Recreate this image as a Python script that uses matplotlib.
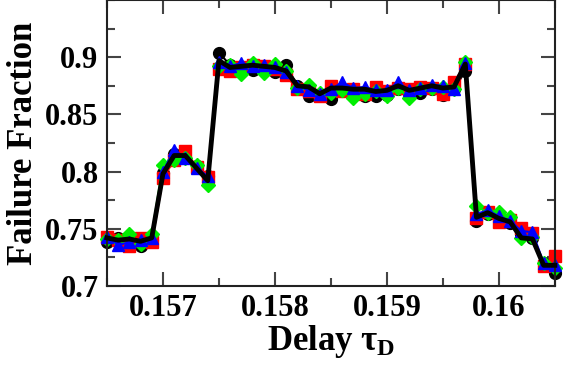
import numpy as np
import matplotlib.pyplot as plt

plt.rcParams['font.family'] = ['Liberation Serif', 'DejaVu Serif']
plt.rcParams['font.weight'] = 'bold'
plt.rcParams['mathtext.fontset'] = 'custom'
plt.rcParams['mathtext.rm'] = 'Liberation Serif:bold'
plt.rcParams['mathtext.it'] = 'Liberation Serif:bold'
plt.rcParams['mathtext.bf'] = 'Liberation Serif:bold'

delay = np.round(0.1565 + 0.0001 * np.arange(41), 4)

black = [0.738, 0.742, 0.737, 0.735, 0.740, 0.799, 0.815, 0.813, 0.805, 0.796,
         0.904, 0.893, 0.891, 0.889, 0.890, 0.887, 0.893, 0.875, 0.866, 0.867,
         0.863, 0.870, 0.867, 0.866, 0.866, 0.867, 0.872, 0.870, 0.869, 0.872,
         0.867, 0.872, 0.888, 0.757, 0.763, 0.758, 0.755, 0.745, 0.742, 0.720,
         0.711]
red = [0.743, 0.740, 0.735, 0.742, 0.738, 0.794, 0.810, 0.818, 0.804, 0.795,
       0.890, 0.888, 0.891, 0.893, 0.892, 0.890, 0.884, 0.872, 0.870, 0.866,
       0.875, 0.870, 0.872, 0.868, 0.874, 0.870, 0.873, 0.872, 0.874, 0.873,
       0.868, 0.878, 0.894, 0.759, 0.765, 0.756, 0.758, 0.751, 0.746, 0.717,
       0.726]
green = [0.741, 0.740, 0.745, 0.737, 0.745, 0.806, 0.810, 0.812, 0.806, 0.788,
         0.892, 0.893, 0.885, 0.895, 0.886, 0.894, 0.888, 0.873, 0.876, 0.869,
         0.869, 0.871, 0.864, 0.868, 0.870, 0.866, 0.873, 0.864, 0.872, 0.873,
         0.874, 0.872, 0.896, 0.770, 0.764, 0.765, 0.760, 0.742, 0.743, 0.720,
         0.716]
blue = [0.743, 0.736, 0.738, 0.740, 0.742, 0.800, 0.819, 0.812, 0.803, 0.796,
        0.896, 0.892, 0.895, 0.892, 0.893, 0.891, 0.887, 0.875, 0.871, 0.868,
        0.872, 0.878, 0.873, 0.874, 0.871, 0.871, 0.878, 0.871, 0.873, 0.876,
        0.875, 0.872, 0.895, 0.763, 0.766, 0.761, 0.757, 0.748, 0.747, 0.720,
        0.718]
average = [0.742, 0.740, 0.741, 0.739, 0.742, 0.798, 0.814, 0.814, 0.803, 0.792,
           0.897, 0.891, 0.892, 0.893, 0.892, 0.891, 0.888, 0.875, 0.874, 0.868,
           0.873, 0.873, 0.872, 0.872, 0.870, 0.871, 0.875, 0.871, 0.873, 0.875,
           0.873, 0.874, 0.894, 0.760, 0.764, 0.759, 0.756, 0.742, 0.741, 0.718,
           0.718]

fig = plt.figure(figsize=(5.75, 3.67), dpi=100)
ax = fig.add_axes([0.186, 0.221, 0.779, 0.779])

ax.plot(delay, black, 'o-', color='black', ms=8.5, lw=1.5, clip_on=False)
ax.plot(delay, red, 's-', color='#ff0000', ms=8.5, lw=1.5, clip_on=False)
ax.plot(delay, green, 'D-', color='#00ee00', ms=7.5, lw=1.5, clip_on=False)
ax.plot(delay, blue, '^-', color='#0000ff', ms=9, lw=1.5, clip_on=False)
ax.plot(delay, average, '-', color='black', lw=3.5, clip_on=False, zorder=5)

ax.set_xlim(0.1565, 0.1605)
ax.set_ylim(0.7, 0.95)
ax.set_xticks([0.157, 0.158, 0.159, 0.16])
ax.set_xticklabels(['0.157', '0.158', '0.159', '0.16'])
ax.set_xticks(np.arange(0.1565, 0.1606, 0.0005), minor=True)
ax.set_yticks([0.7, 0.75, 0.8, 0.85, 0.9])
ax.set_yticklabels(['0.7', '0.75', '0.8', '0.85', '0.9'])
ax.set_yticks(np.arange(0.7, 0.951, 0.025), minor=True)

ax.tick_params(which='both', direction='in', top=True, right=True,
               labelsize=22, width=1.5, color='#444444')
ax.tick_params(axis='x', pad=6)
ax.tick_params(axis='y', pad=6)
ax.tick_params(which='major', length=10)
ax.tick_params(which='minor', length=6)
for s in ax.spines.values():
    s.set_linewidth(1.5)
    s.set_color('#222222')

ax.set_xlabel(r'Delay $\tau_\mathregular{D}$', fontsize=25, fontweight='bold', labelpad=0)
ax.set_ylabel('Failure Fraction', fontsize=25, fontweight='bold', labelpad=4)

fig.savefig('out.png', dpi=100)
